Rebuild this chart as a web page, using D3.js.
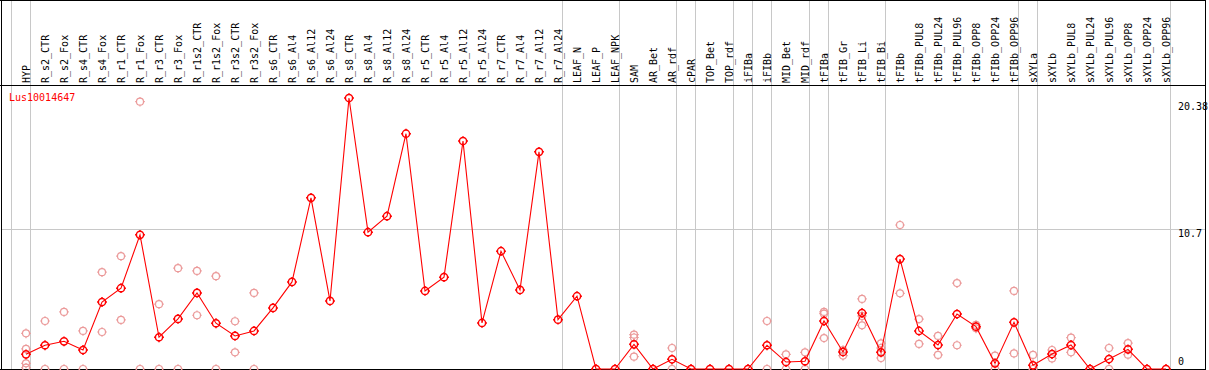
<!DOCTYPE html>
<html>
<head>
<meta charset="utf-8">
<script src="https://cdn.jsdelivr.net/npm/d3@7/dist/d3.min.js"></script>
<style>
  html, body { margin: 0; padding: 0; background: #fff; }
  svg { display: block; }
  text { font-family: "DejaVu Sans Mono", "Liberation Mono", monospace; font-size: 10px; }
</style>
</head>
<body>
<svg id="chart" width="1209" height="370"></svg>
<script>
const geneName = "Lus10014647";

const categories = [
  "HYP","R_s2_CTR","R_s2_Fox","R_s4_CTR","R_s4_Fox","R_r1_CTR","R_r1_Fox","R_r3_CTR","R_r3_Fox",
  "R_r1s2_CTR","R_r1s2_Fox","R_r3s2_CTR","R_r3s2_Fox","R_s6_CTR","R_s6_Al4","R_s6_Al12","R_s6_Al24",
  "R_s8_CTR","R_s8_Al4","R_s8_Al12","R_s8_Al24","R_r5_CTR","R_r5_Al4","R_r5_Al12","R_r5_Al24",
  "R_r7_CTR","R_r7_Al4","R_r7_Al12","R_r7_Al24","LEAF_N","LEAF_P","LEAF_NPK","SAM","AR_Bet","AR_rdf",
  "cPAR","TOP_Bet","TOP_rdf","iFIBa","iFIBb","MID_Bet","MID_rdf","tFIBa","tFIB_Gr","tFIB_Li","tFIB_Bi",
  "tFIBb","tFIBb_PUL8","tFIBb_PUL24","tFIBb_PUL96","tFIBb_OPP8","tFIBb_OPP24","tFIBb_OPP96",
  "sXYLa","sXYLb","sXYLb_PUL8","sXYLb_PUL24","sXYLb_PUL96","sXYLb_OPP8","sXYLb_OPP24","sXYLb_OPP96"
];

// mean expression per sample (red line)
const meanValues = [
  1.12, 1.81, 2.11, 1.45, 5.11, 6.16, 10.23, 2.42, 3.82,
  5.80, 3.49, 2.52, 2.90, 4.66, 6.64, 13.05, 5.19,
  20.66, 10.43, 11.65, 17.94, 5.95, 7.00, 17.38, 3.51,
  8.98, 6.03, 16.56, 3.76, 5.55, 0, 0, 1.88, 0, 0.74,
  0, 0, 0, 0, 1.81, 0.53, 0.59, 3.66, 1.30, 4.27, 1.27,
  8.38, 2.90, 1.83, 4.19, 3.23, 0.43, 3.56,
  0.28, 1.14, 1.83, 0, 0.76, 1.50, 0, 0
];

// individual replicate values (pink circles): [sample, value]
const replicateSamples = [
  "HYP","HYP","HYP","HYP",
  "R_s2_CTR","R_s2_CTR","R_s2_Fox","R_s2_Fox","R_s4_CTR","R_s4_CTR","R_s4_Fox","R_s4_Fox",
  "R_r1_CTR","R_r1_CTR","R_r1_Fox","R_r1_Fox","R_r3_CTR","R_r3_CTR","R_r3_Fox","R_r3_Fox",
  "R_r1s2_CTR","R_r1s2_CTR","R_r1s2_Fox","R_r1s2_Fox","R_r3s2_CTR","R_r3s2_CTR","R_r3s2_Fox","R_r3s2_Fox",
  "SAM","SAM","SAM","AR_rdf","AR_rdf","iFIBb","iFIBb","MID_Bet","MID_Bet","MID_rdf","MID_rdf",
  "tFIBa","tFIBa","tFIBa","tFIB_Gr","tFIB_Gr","tFIB_Li","tFIB_Li","tFIB_Li","tFIB_Bi","tFIB_Bi","tFIB_Bi",
  "tFIBb","tFIBb","tFIBb_PUL8","tFIBb_PUL8","tFIBb_PUL24","tFIBb_PUL24","tFIBb_PUL96","tFIBb_PUL96",
  "tFIBb_OPP8","tFIBb_OPP8","tFIBb_OPP24","tFIBb_OPP24","tFIBb_OPP96","tFIBb_OPP96",
  "sXYLa","sXYLa","sXYLb","sXYLb","sXYLb_PUL8","sXYLb_PUL8","sXYLb_PUL96","sXYLb_PUL96",
  "sXYLb_OPP8","sXYLb_OPP8"
];
const replicateValues = [
  2.72, 1.53, 0.43, 0.10,
  3.66, 0, 4.35, 0, 2.90, 0, 7.38, 2.82,
  8.60, 3.74, 20.38, 0, 4.94, 0, 7.69, 0,
  7.48, 4.10, 7.08, 0, 3.64, 1.27, 5.80, 0,
  2.62, 2.40, 0.94, 1.60, 0, 3.66, 0, 1.12, 0, 1.27, 0,
  4.35, 4.22, 2.36, 1.45, 1.02, 5.34, 4.04, 3.33, 1.96, 1.60, 0.84,
  10.98, 5.77, 3.81, 1.91, 2.52, 1.07, 6.55, 1.81,
  3.36, 3.10, 1.02, 0, 5.95, 1.19,
  1.07, 0, 1.45, 0.81, 2.39, 1.27, 1.60, 0,
  1.98, 1.09
];

// first sample of each group (vertical separators)
const groupStarts = ["HYP","R_s2_CTR","LEAF_N","SAM","cPAR","TOP_Bet","iFIBa","iFIBb","MID_Bet","tFIBa","tFIB_Gr","tFIBb","sXYLa","sXYLb"];

const yTicks = [0, 10.7, 20.38];

// ---------- drawing ----------
const W = 1209, H = 370;
const headerBottom = 85.5;
const svg = d3.select("#chart");

const x = d3.scaleBand().domain(categories).range([10.5, 10.5 + 19 * categories.length]).padding(0);
const cx = d => x(d) + 15.5;
const y = d3.scaleLinear().domain([0, 20.38]).range([369, 101.7]);

const grid = "#c8c8c8";
const pink = "#eb9a9a";

// vertical group separators
const sepX = groupStarts.map(g => x(g)).concat([x.range()[1]]);
svg.append("g").selectAll("line").data(sepX).join("line")
  .attr("x1", d => Math.round(d) + 0.5).attr("x2", d => Math.round(d) + 0.5)
  .attr("y1", 0).attr("y2", H)
  .attr("stroke", grid).attr("stroke-width", 1);

// horizontal grid line(s) for non-zero ticks except top
svg.append("g").selectAll("line").data(yTicks.filter(t => t > 0 && t < 20.38)).join("line")
  .attr("x1", 1).attr("x2", 1205)
  .attr("y1", d => Math.round(y(d)) + 0.5).attr("y2", d => Math.round(y(d)) + 0.5)
  .attr("stroke", grid).attr("stroke-width", 1);

// frame
svg.append("line").attr("x1", 0).attr("x2", 1206).attr("y1", 0.5).attr("y2", 0.5).attr("stroke", "#000");
svg.append("line").attr("x1", 0).attr("x2", 1206).attr("y1", headerBottom).attr("y2", headerBottom).attr("stroke", "#000");
svg.append("line").attr("x1", 1.5).attr("x2", 1.5).attr("y1", 0).attr("y2", H).attr("stroke", "#000");
svg.append("line").attr("x1", 1205.5).attr("x2", 1205.5).attr("y1", 0).attr("y2", H).attr("stroke", "#000");
svg.append("line").attr("x1", 0).attr("x2", 1206).attr("y1", 369.5).attr("y2", 369.5).attr("stroke", "#000");

// column labels (rotated)
svg.append("g").selectAll("text").data(categories).join("text")
  .attr("transform", d => `translate(${cx(d) + 3.5},83) rotate(-90)`)
  .attr("text-anchor", "start")
  .attr("fill", "#000")
  .text(d => d);

// y tick labels (right side)
svg.append("g").selectAll("text").data(yTicks).join("text")
  .attr("x", 1178)
  .attr("y", d => d === 0 ? y(d) - 4 : y(d) + 8.5)
  .attr("fill", "#000")
  .text(d => String(d));

// gene name
svg.append("text").attr("x", 9).attr("y", 100.5).attr("fill", "#ff0000").text(geneName);

// marker helper
function marker(g, r, tick, color, sw) {
  g.append("circle").attr("r", r).attr("fill", "none").attr("stroke", color).attr("stroke-width", sw);
  [[0, -1], [0, 1], [-1, 0], [1, 0]].forEach(([dx, dy]) => {
    g.append("line")
      .attr("x1", dx * r).attr("y1", dy * r)
      .attr("x2", dx * (r + tick)).attr("y2", dy * (r + tick))
      .attr("stroke", color).attr("stroke-width", sw);
  });
}

// replicates
const reps = replicateSamples.map((s, i) => ({ s, v: replicateValues[i] }));
svg.append("g").selectAll("g").data(reps).join("g")
  .attr("transform", d => `translate(${cx(d.s)},${y(d.v)})`)
  .each(function () { marker(d3.select(this), 3.5, 1.3, pink, 1.2); });

// mean line
const means = categories.map((c, i) => ({ c, v: meanValues[i] }));
svg.append("path").datum(means)
  .attr("fill", "none").attr("stroke", "#ff0000").attr("stroke-width", 1.1)
  .attr("d", d3.line().x(d => cx(d.c)).y(d => y(d.v)));

// mean markers
svg.append("g").selectAll("g").data(means).join("g")
  .attr("transform", d => `translate(${cx(d.c)},${y(d.v)})`)
  .each(function () { marker(d3.select(this), 3.6, 1.3, "#ff0000", 1.5); });
</script>
</body>
</html>
